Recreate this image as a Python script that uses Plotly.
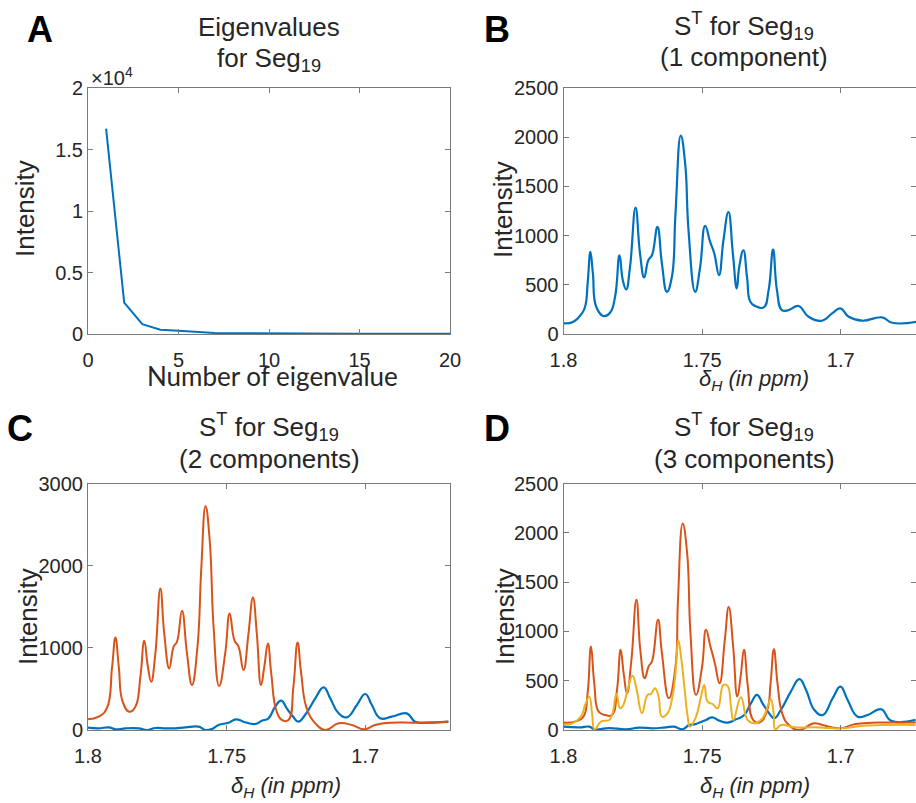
import plotly.graph_objects as go

W, H = 916, 803

# ---------------- data ----------------
eig_n = list(range(1, 21))
eig_val = [16700, 2550, 800, 350, 270, 170, 90, 70, 55, 45,
           40, 35, 30, 26, 23, 20, 18, 16, 14, 12]
eig_ticks = [0, 5000, 10000, 15000, 20000]
eig_ticktext = ["0", "0.5", "1", "1.5", "2"]

ppm_ticks = [1.8, 1.75, 1.7]
ppm_ticktext = ["1.8", "1.75", "1.7"]

# Panel B: 1 component
b_ppm = [1.8000, 1.7964, 1.7934, 1.7922, 1.7912, 1.7903, 1.7894, 1.7882, 1.7856, 1.7832,
         1.7814, 1.7798, 1.7786, 1.7774, 1.7760, 1.7740, 1.7724, 1.7709, 1.7694, 1.7681,
         1.7661, 1.7645, 1.7627, 1.7609, 1.7596, 1.7577, 1.7561, 1.7549, 1.7525, 1.7507,
         1.7489, 1.7471, 1.7456, 1.7439, 1.7423, 1.7405, 1.7389, 1.7375, 1.7366, 1.7351,
         1.7338, 1.7326, 1.7308, 1.7278, 1.7260, 1.7244, 1.7230, 1.7212, 1.7188, 1.7152,
         1.7116, 1.7067, 1.7031, 1.7001, 1.6971, 1.6923, 1.6851, 1.6814, 1.6727]
b_int = [108, 125, 209, 277, 547, 834, 615, 277, 182, 216,
         378, 800, 547, 453, 682, 1284, 818, 574, 750, 800,
         1088, 716, 429, 581, 1223, 2017, 1730, 1054, 429, 682,
         1098, 936, 818, 598, 953, 1240, 818, 463, 682, 851,
         580, 327, 284, 270, 446, 858, 446, 243, 243, 284,
         175, 135, 210, 260, 175, 135, 169, 114, 125]

# Panel C: 2 components
c1_ppm = [1.8000, 1.7962, 1.7925, 1.7901, 1.7865, 1.7817, 1.7787, 1.7757, 1.7721, 1.7685,
          1.7649, 1.7601, 1.7577, 1.7553, 1.7529, 1.7493, 1.7466, 1.7439, 1.7397, 1.7373,
          1.7349, 1.7325, 1.7303, 1.7283, 1.7262, 1.7241, 1.7217, 1.7180, 1.7150, 1.7126,
          1.7096, 1.7066, 1.7030, 1.7000, 1.6976, 1.6946, 1.6904, 1.6850, 1.6820, 1.6772,
          1.6700]
c1_int = [28, 20, 32, 8, 20, 20, 0, 24, 20, 20,
          32, 41, 0, 12, 61, 89, 130, 101, 73, 113,
          142, 284, 357, 264, 170, 101, 182, 385, 519, 385,
          203, 154, 304, 438, 304, 142, 162, 203, 101, 89,
          101]
c2_ppm = [1.8000, 1.7962, 1.7932, 1.7913, 1.7901, 1.7889, 1.7875, 1.7851, 1.7829, 1.7811,
          1.7797, 1.7784, 1.7772, 1.7757, 1.7739, 1.7725, 1.7707, 1.7691, 1.7679, 1.7661,
          1.7643, 1.7625, 1.7605, 1.7591, 1.7576, 1.7561, 1.7547, 1.7527, 1.7505, 1.7489,
          1.7472, 1.7457, 1.7439, 1.7421, 1.7405, 1.7391, 1.7376, 1.7364, 1.7351, 1.7339,
          1.7321, 1.7301, 1.7277, 1.7259, 1.7244, 1.7231, 1.7211, 1.7180, 1.7144, 1.7096,
          1.7048, 1.7003, 1.6964, 1.6904, 1.6820, 1.6700]
c2_int = [130, 162, 264, 770, 1127, 770, 345, 223, 284, 649,
          1086, 770, 588, 932, 1723, 1176, 750, 1014, 1074, 1451,
          932, 547, 1014, 1986, 2724, 2311, 1257, 535, 932, 1419,
          1095, 1014, 730, 1176, 1613, 1176, 547, 770, 1054, 689,
          243, 122, 122, 527, 1066, 689, 264, 81, 0, 81,
          61, 8, 61, 89, 89, 101]

# Panel D: 3 components
d1_ppm = [1.8000, 1.7943, 1.7907, 1.7888, 1.7835, 1.7775, 1.7727, 1.7679, 1.7631, 1.7601,
          1.7571, 1.7549, 1.7522, 1.7486, 1.7464, 1.7438, 1.7408, 1.7378, 1.7348, 1.7324,
          1.7302, 1.7282, 1.7258, 1.7240, 1.7216, 1.7180, 1.7149, 1.7125, 1.7095, 1.7065,
          1.7029, 1.7001, 1.6975, 1.6939, 1.6903, 1.6854, 1.6818, 1.6730]
d1_int = [34, 27, 34, 7, 20, 7, 24, 17, 27, 34,
          7, 47, 61, 102, 129, 95, 74, 108, 152, 271,
          356, 271, 169, 119, 203, 389, 515, 406, 203, 152,
          322, 440, 305, 135, 152, 210, 94, 102]
d2_ppm = [1.8000, 1.7958, 1.7928, 1.7913, 1.7901, 1.7889, 1.7873, 1.7849, 1.7825, 1.7807,
          1.7794, 1.7783, 1.7771, 1.7755, 1.7737, 1.7723, 1.7707, 1.7693, 1.7681, 1.7659,
          1.7645, 1.7620, 1.7596, 1.7587, 1.7570, 1.7554, 1.7542, 1.7522, 1.7500, 1.7486,
          1.7470, 1.7454, 1.7437, 1.7418, 1.7404, 1.7388, 1.7373, 1.7361, 1.7349, 1.7335,
          1.7316, 1.7293, 1.7265, 1.7253, 1.7241, 1.7228, 1.7211, 1.7187, 1.7151, 1.7096,
          1.7066, 1.7006, 1.6946, 1.6861, 1.6729]
d2_int = [75, 85, 136, 373, 847, 474, 186, 152, 152, 407,
          813, 576, 373, 711, 1321, 813, 525, 644, 695, 1118,
          779, 322, 644, 1321, 2094, 1796, 983, 356, 644, 1016,
          847, 678, 474, 915, 1247, 847, 339, 542, 813, 440,
          102, 75, 203, 474, 820, 474, 169, 51, 0, 68,
          51, 17, 61, 75, 75]
d3_ppm = [1.8000, 1.7968, 1.7937, 1.7922, 1.7907, 1.7897, 1.7888, 1.7865, 1.7835, 1.7823,
          1.7809, 1.7796, 1.7784, 1.7769, 1.7751, 1.7736, 1.7717, 1.7697, 1.7684, 1.7670,
          1.7657, 1.7645, 1.7625, 1.7607, 1.7594, 1.7586, 1.7576, 1.7564, 1.7552, 1.7544,
          1.7522, 1.7504, 1.7492, 1.7480, 1.7462, 1.7444, 1.7423, 1.7408, 1.7396, 1.7387,
          1.7360, 1.7336, 1.7312, 1.7282, 1.7264, 1.7252, 1.7242, 1.7236, 1.7215, 1.7167,
          1.7092, 1.6999, 1.6926, 1.6830, 1.6730]
d3_int = [51, 68, 135, 254, 338, 169, 7, 85, 102, 169,
          366, 220, 254, 406, 549, 406, 169, 356, 366, 423,
          338, 135, 169, 338, 643, 914, 744, 440, 135, 34,
          135, 338, 457, 288, 264, 220, 457, 447, 237, 102,
          332, 102, 68, 119, 237, 312, 169, 7, 51, 27,
          27, 17, 41, 51, 51]

BLUE, ORANGE, YELLOW = "#0072BD", "#D95319", "#EDB120"
TXT = "#262626"
AX = "#7a7a7a"
FONT = "Liberation Sans, Arial, sans-serif"
SMOOTH = 1.3


def px(x):
    return x / W


def py(y):
    return 1 - y / H


fig = go.Figure()

# panel A
fig.add_trace(go.Scatter(x=eig_n, y=eig_val, mode="lines", line=dict(color=BLUE, width=2),
                         xaxis="x", yaxis="y", showlegend=False))
# panel B
fig.add_trace(go.Scatter(x=b_ppm, y=b_int, mode="lines",
                         line=dict(color=BLUE, width=2.2, shape="spline", smoothing=SMOOTH),
                         xaxis="x2", yaxis="y2", showlegend=False))
# panel C
fig.add_trace(go.Scatter(x=c1_ppm, y=c1_int, mode="lines",
                         line=dict(color=BLUE, width=2.2, shape="spline", smoothing=SMOOTH),
                         xaxis="x3", yaxis="y3", showlegend=False))
fig.add_trace(go.Scatter(x=c2_ppm, y=c2_int, mode="lines",
                         line=dict(color=ORANGE, width=2, shape="spline", smoothing=SMOOTH),
                         xaxis="x3", yaxis="y3", showlegend=False))
# panel D
fig.add_trace(go.Scatter(x=d1_ppm, y=d1_int, mode="lines",
                         line=dict(color=BLUE, width=2.2, shape="spline", smoothing=SMOOTH),
                         xaxis="x4", yaxis="y4", showlegend=False))
fig.add_trace(go.Scatter(x=d2_ppm, y=d2_int, mode="lines",
                         line=dict(color=ORANGE, width=2, shape="spline", smoothing=SMOOTH),
                         xaxis="x4", yaxis="y4", showlegend=False))
fig.add_trace(go.Scatter(x=d3_ppm, y=d3_int, mode="lines",
                         line=dict(color=YELLOW, width=2, shape="spline", smoothing=SMOOTH),
                         xaxis="x4", yaxis="y4", showlegend=False))

common = dict(showline=True, linecolor=AX, linewidth=1, mirror="ticks", ticks="inside",
              ticklen=5, tickwidth=1, tickcolor=AX, showgrid=False, zeroline=False,
              automargin=False,
              tickfont=dict(family=FONT, size=20, color=TXT))

# pixel geometry
L1, R1 = 88, 450
L2, R2 = 563.5, 916
T1, B1 = 88, 334
T2, B2 = 483.5, 730

ppm_per_px = 0.05 / 138.6
rangeB_end = 1.8 - (R2 - L2) * ppm_per_px
rangeC_end = 1.8 - (R1 - L1) * ppm_per_px

fig.update_layout(
    width=W, height=H, autosize=False,
    margin=dict(l=0, r=0, t=0, b=0, pad=0, autoexpand=False),
    paper_bgcolor="white", plot_bgcolor="white",
    xaxis=dict(domain=[px(L1), px(R1)], range=[0, 20], tickvals=[0, 5, 10, 15, 20],
               anchor="y", ticklabelstandoff=8, **common),
    yaxis=dict(domain=[py(B1), py(T1)], range=[0, 20000], tickvals=eig_ticks,
               ticktext=eig_ticktext, anchor="x", **common),
    xaxis2=dict(domain=[px(L2), 1.0], range=[1.8, rangeB_end], tickvals=ppm_ticks,
                ticktext=ppm_ticktext, anchor="y2", ticklabelstandoff=8, **common),
    yaxis2=dict(domain=[py(B1), py(T1)], range=[0, 2500], tickvals=[0, 500, 1000, 1500, 2000, 2500],
                anchor="x2", **common),
    xaxis3=dict(domain=[px(L1), px(R1)], range=[1.8, rangeC_end], tickvals=ppm_ticks,
                ticktext=ppm_ticktext, anchor="y3", ticklabelstandoff=8, **common),
    yaxis3=dict(domain=[py(B2), py(T2)], range=[0, 3000], tickvals=[0, 1000, 2000, 3000],
                anchor="x3", **common),
    xaxis4=dict(domain=[px(L2), 1.0], range=[1.8, rangeB_end], tickvals=ppm_ticks,
                ticktext=ppm_ticktext, anchor="y4", ticklabelstandoff=8, **common),
    yaxis4=dict(domain=[py(B2), py(T2)], range=[0, 2500], tickvals=[0, 500, 1000, 1500, 2000, 2500],
                anchor="x4", **common),
)

ann = []


def add(text, x, y, size, bold=False, italic=False, angle=0, family=FONT, color=TXT, xanchor="center"):
    if bold:
        text = "<b>" + text + "</b>"
    if italic:
        text = "<i>" + text + "</i>"
    ann.append(dict(text=text, x=px(x), y=py(y), xref="paper", yref="paper", showarrow=False,
                    xanchor=xanchor, yanchor="middle", textangle=angle,
                    font=dict(family=family, size=size, color=color)))


# panel letters
add("A", 40, 29, 36, bold=True, color="black")
add("B", 497, 29, 36, bold=True, color="black")
add("C", 20, 428, 36, bold=True, color="black")
add("D", 497, 428, 36, bold=True, color="black")

# titles
cA = (L1 + R1) / 2
cB = (L2 + L2 + 361) / 2
add("Eigenvalues", cA, 27, 26)
add("for Seg<sub>19</sub>", cA, 60, 26)
add("S<sup>T</sup> for Seg<sub>19</sub>", cB, 26, 26)
add("(1 component)", cB, 57, 26)
add("S<sup>T</sup> for Seg<sub>19</sub>", cA, 427, 26)
add("(2 components)", cA, 459, 26)
add("S<sup>T</sup> for Seg<sub>19</sub>", cB, 427, 26)
add("(3 components)", cB, 459, 26)

# multiplier
add("×10<sup>4</sup>", 89, 76, 20, xanchor="left")

# y titles
add("Intensity", 25, 209, 26, angle=-90)
add("Intensity", 503, 210, 26, angle=-90)
add("Intensity", 28, 617, 26, angle=-90)
add("Intensity", 505, 617, 26, angle=-90)

# x titles
add("Number of eigenvalue", 272, 376, 26, family="Lato, Carlito, sans-serif")
add("δ<sub>H</sub> (in ppm)", 754, 380, 22, italic=True)
add("δ<sub>H</sub> (in ppm)", 286, 787, 22, italic=True)
add("δ<sub>H</sub> (in ppm)", 755, 787, 22, italic=True)

fig.update_layout(annotations=ann)

fig.write_html("out.html")
